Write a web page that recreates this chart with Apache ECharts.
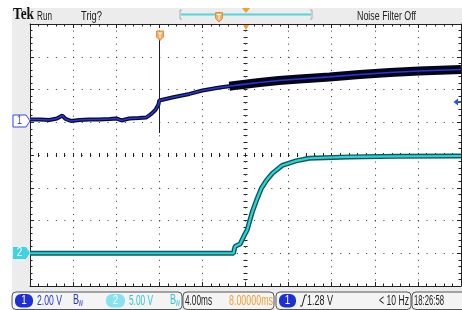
<!DOCTYPE html>
<html>
<head>
<meta charset="utf-8">
<script src="https://cdn.jsdelivr.net/npm/echarts@6/dist/echarts.min.js"></script>
<style>
  html, body { margin: 0; padding: 0; background: #fff; }
  #chart { width: 462px; height: 310px; }
</style>
</head>
<body>
<div id="chart"></div>
<script>
// Channel 1: time (ms from trigger) and volts
const ch1Time  = [-12.0, -11.1, -10.2, -9.5, -9.0, -8.7, -8.2, -7.4, -6.5, -5.6, -4.6, -4.0, -3.5, -2.8, -1.9, -1.2, -0.74, -0.37, -0.09, 0, 1.4, 2.8, 4.0, 5.6, 6.5, 7.4, 9.3, 11.1, 13.0, 15.8, 18.6, 21.4, 24.1, 28.0];
const ch1Volts = [0.03, 0.03, 0.0, 0.09, 0.27, 0.06, -0.06, 0.0, 0.03, 0.03, 0.06, 0.09, -0.03, 0.09, 0.12, 0.15, 0.37, 0.61, 0.92, 1.19, 1.40, 1.59, 1.80, 1.98, 2.06, 2.14, 2.29, 2.41, 2.50, 2.63, 2.78, 2.90, 2.99, 3.08];

// Channel 2: time (ms from trigger) and volts
const ch2Time  = [-12.0, 0, 6.9, 6.96, 7.05, 7.5, 7.89, 8.17, 8.35, 8.63, 9.1, 9.47, 9.93, 10.49, 11.4, 12.7, 13.9, 17.6, 22.0, 28.0];
const ch2Volts = [0, 0, 0, 0.6, 1.07, 1.4, 2.75, 3.6, 4.7, 6.3, 8.4, 9.9, 11.1, 12.2, 13.4, 14.1, 14.5, 14.7, 14.8, 14.85];

// vertical scale (V/div) and ground position (div from centre)
const ch1Scale = 2.00, ch1Offset = 1.07;
const ch2Scale = 5.00, ch2Offset = -3;
const bandStart = 6.5; // noisy envelope of ch1 from here on

const toDiv = (times, volts, scale, offset) => times.map((t, i) => [t, offset + volts[i] / scale]);
const ch1Data = toDiv(ch1Time, ch1Volts, ch1Scale, ch1Offset);
const ch1Band = ch1Data.filter(p => p[0] >= bandStart);
const ch2Data = toDiv(ch2Time, ch2Volts, ch2Scale, ch2Offset);

const TOP_FONT = '12px "Liberation Sans",Arial,sans-serif';
const BAR_FONT = '15px "Liberation Sans",Arial,sans-serif';
const BADGE_FONT = '12px "Liberation Sans",Arial,sans-serif';
const ink = '#222';

const chart = echarts.init(document.getElementById('chart'));

const xBase = { type: 'value', min: -12, max: 28, interval: 4, axisLabel: { show: false }, splitLine: { show: false } };
const yBase = { type: 'value', min: -4, max: 4, interval: 1, axisLabel: { show: false }, splitLine: { show: false } };
const tick = (inside, len) => ({ show: true, inside: inside, length: len, lineStyle: { color: ink, width: 1 } });
const minor = (len) => ({ show: true, splitNumber: 5, length: len, lineStyle: { color: ink, width: 1 } });
const border = { show: true, onZero: false, lineStyle: { color: ink, width: 1 } };
const hidden = { show: false, onZero: false };

// the scope font is condensed, so squeeze each label to the width it has on screen
const measure = document.createElement('canvas').getContext('2d');
const fit = (x, y, text, width, fill, font, align) => {
  measure.font = font;
  const s = width / measure.measureText(text).width;
  return { type: 'text', z: 22, x: x, y: y, scaleX: s,
    style: { x: 0, y: 0, text: text, fill: fill, font: font, align: align || 'left', verticalAlign: 'middle' } };
};
const shield = (cx, top) => [
  { type: 'polygon', z: 20, shape: { points: [[cx - 3.5, top], [cx + 3.5, top], [cx + 3.5, top + 6], [cx, top + 9.5], [cx - 3.5, top + 6]] },
    style: { fill: '#f3ad66', stroke: '#e0903a', lineWidth: 1 } },
  { type: 'polyline', z: 21, shape: { points: [[cx - 2, top + 2], [cx + 2, top + 2]] }, style: { stroke: '#fff', lineWidth: 1 } },
  { type: 'polyline', z: 21, shape: { points: [[cx, top + 2], [cx, top + 7]] }, style: { stroke: '#fff', lineWidth: 1 } }
];
const box = (x, w) => ({ type: 'rect', z: 15, shape: { x: x, y: 292, width: w, height: 17.5, r: 4 }, style: { fill: '#f4f4f4', stroke: '#555', lineWidth: 1 } });
const badge = (x, w, fill, label) => [
  { type: 'rect', z: 16, shape: { x: x, y: 294, width: w, height: 13.5, r: 6 }, style: { fill: fill } },
  fit(x + w / 2, 301, label, 5.5, '#fff', BADGE_FONT, 'center')
];
const bw = (x, fill) => [
  fit(x, 300, 'B', 6, fill, '14px "Liberation Sans",sans-serif'),
  fit(x + 5.5, 303.5, 'W', 4.5, fill, '9px "Liberation Sans",sans-serif')
];

const graphics = [
  { type: 'rect', z: -5, shape: { x: 12, y: 8, width: 450, height: 302 }, style: { fill: '#ececec' } },
  // top bar
  fit(13, 14.5, 'Tek', 21, '#111', 'bold 16px "Liberation Serif","DejaVu Serif",serif'),
  fit(37, 16.5, 'Run', 15, ink, TOP_FONT),
  fit(81, 16.5, 'Trig?', 21, ink, TOP_FONT),
  fit(357, 16.5, 'Noise Filter Off', 59, ink, TOP_FONT),
  { type: 'polyline', z: 20, shape: { points: [[182, 10], [180, 10], [180, 19], [182, 19]] }, style: { stroke: '#aaa', lineWidth: 1 } },
  { type: 'polyline', z: 20, shape: { points: [[310, 10], [312, 10], [312, 19], [310, 19]] }, style: { stroke: '#aaa', lineWidth: 1 } },
  { type: 'polyline', z: 19, shape: { points: [[181, 14.5], [311, 14.5]] }, style: { stroke: '#4fd6de', lineWidth: 2 } },
  ...shield(219, 12.5),
  { type: 'polygon', z: 20, shape: { points: [[242, 8], [250, 8], [246, 13]] }, style: { fill: '#f0a030' } },
  { type: 'polygon', z: 20, shape: { points: [[243, 25], [249, 25], [246, 30]] }, style: { fill: '#f0a030' } },
  // trigger position marker
  ...shield(160, 31),
  // channel ground markers
  { type: 'polygon', z: 20, shape: { points: [[13, 115], [26, 115], [30, 121], [26, 127], [13, 127]] }, style: { fill: '#fff', stroke: '#3a48ee', lineWidth: 1 } },
  fit(19.5, 121, '1', 5, '#3a48ee', BADGE_FONT, 'center'),
  { type: 'polygon', z: 20, shape: { points: [[13, 247], [26, 247], [30, 253], [26, 259], [13, 259]] }, style: { fill: '#3fd3e3' } },
  fit(19.5, 253, '2', 5.5, '#fff', BADGE_FONT, 'center'),
  // right edge level arrow
  { type: 'polygon', z: 20, shape: { points: [[453.5, 102], [458, 98.5], [458, 105.5]] }, style: { fill: '#3050e8' } },
  { type: 'polyline', z: 20, shape: { points: [[457, 102], [461, 102]] }, style: { stroke: '#3050e8', lineWidth: 2 } },
  // bottom status bar
  box(12, 170), box(183, 91), box(276, 135), box(412, 60),
  ...badge(15, 18, '#1f2fd6', '1'),
  fit(37, 300.5, '2.00 V', 25, '#2a3ad0', BAR_FONT),
  ...bw(73, '#2a3ad0'),
  ...badge(106, 19, '#86e2ec', '2'),
  fit(129, 300.5, '5.00 V', 24, '#30c6d6', BAR_FONT),
  ...bw(170, '#30c6d6'),
  fit(185, 300.5, '4.00ms', 27, ink, BAR_FONT),
  fit(229, 300.5, '8.00000ms', 44, '#f0a030', BAR_FONT),
  ...badge(279, 17, '#1f2fd6', '1'),
  { type: 'polyline', z: 20, shape: { points: [[300, 306], [302, 306], [305, 295], [307, 295]] }, style: { stroke: ink, lineWidth: 1 } },
  fit(307, 300.5, '1.28 V', 26, ink, BAR_FONT),
  fit(379, 300.5, '< 10 Hz', 30, ink, BAR_FONT),
  fit(414, 300.5, '18:26:58', 30, ink, BAR_FONT)
];

const option = {
  animation: false,
  grid: { left: 30, top: 24, width: 431, height: 262, show: true, backgroundColor: '#fff', borderWidth: 0, outerBoundsMode: 'none' },
  xAxis: [
    Object.assign({}, xBase, { position: 'bottom', axisLine: border, axisTick: tick(true, 4), minorTick: minor(2.5),
      splitLine: { show: true, lineStyle: { color: '#333', width: 1, type: [1, 5.55] } } }),
    Object.assign({}, xBase, { position: 'top', axisLine: border, axisTick: tick(true, 4), minorTick: minor(2.5) }),
    Object.assign({}, xBase, { position: 'bottom', offset: -131, axisLine: hidden, axisTick: tick(true, 2), minorTick: minor(2) }),
    Object.assign({}, xBase, { position: 'bottom', offset: -131, axisLine: hidden, axisTick: tick(false, 2), minorTick: minor(2) })
  ],
  yAxis: [
    Object.assign({}, yBase, { position: 'left', axisLine: border, axisTick: tick(true, 4), minorTick: minor(2.5),
      splitLine: { show: true, lineStyle: { color: '#333', width: 1, type: [1, 7.62] } } }),
    Object.assign({}, yBase, { position: 'right', axisLine: border, axisTick: tick(true, 4), minorTick: minor(2.5) }),
    Object.assign({}, yBase, { position: 'left', offset: -215.5, axisLine: hidden, axisTick: tick(true, 2), minorTick: minor(2) }),
    Object.assign({}, yBase, { position: 'left', offset: -215.5, axisLine: hidden, axisTick: tick(false, 2), minorTick: minor(2) })
  ],
  series: [
    { type: 'line', data: ch2Data, symbol: 'none', silent: true, z: 2, lineStyle: { color: '#0f5a5c', width: 5 } },
    { type: 'line', data: ch2Data, symbol: 'none', silent: true, z: 3, lineStyle: { color: '#2fd2d8', width: 2.2 } },
    { type: 'line', data: ch1Data, symbol: 'none', silent: true, z: 4, lineStyle: { color: '#0a0a2a', width: 4 } },
    { type: 'line', data: ch1Band, symbol: 'none', silent: true, z: 4, lineStyle: { color: '#05051a', width: 9 } },
    { type: 'line', data: ch1Data, symbol: 'none', silent: true, z: 5, lineStyle: { color: '#2a35d8', width: 1.6 },
      markLine: { symbol: 'none', silent: true, label: { show: false }, lineStyle: { color: '#1a1a40', width: 1, type: 'solid' },
        data: [[{ coord: [0, 3.57] }, { coord: [0, 0.67] }]] } }
  ],
  graphic: graphics
};

chart.setOption(option);
</script>
</body>
</html>
